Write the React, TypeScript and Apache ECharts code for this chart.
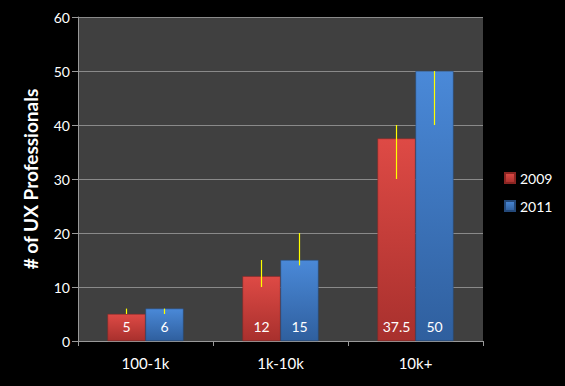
import React, { useEffect, useRef } from "react";
import * as echarts from "echarts";

const categories = ["100-1k", "1k-10k", "10k+"];
const series2009 = [5, 12, 37.5];
const series2011 = [6, 15, 50];
const err2009 = [[5, 6], [10, 15], [30, 40]];
const err2011 = [[5, 6], [14, 20], [40, 50]];
const yTicks = [0, 10, 20, 30, 40, 50, 60];

const FONT = "Lato, 'Open Sans', sans-serif";

export default function App() {
  const ref = useRef<HTMLDivElement>(null);
  useEffect(() => {
    document.body.style.margin = "0";
    document.body.style.background = "#000000";
    const chart = echarts.init(ref.current!, null, { renderer: "svg" });
    const BW = 38;
    const errData = (arr: number[][], side: number) =>
      arr.map((r, i) => [i, r[0], r[1], side]);
    const renderErr = (params: any, api: any) => {
      const i = api.value(0);
      const side = api.value(3);
      const p1 = api.coord([i, api.value(1)]);
      const p2 = api.coord([i, api.value(2)]);
      const x = p1[0] + side * (BW / 2);
      return {
        type: "line",
        shape: { x1: x, y1: p1[1], x2: x, y2: p2[1] },
        style: { stroke: "#ffff00", lineWidth: 1.2 },
      };
    };
    const grad = (top: string, bottom: string) =>
      new echarts.graphic.LinearGradient(0, 0, 0, 1, [
        { offset: 0, color: top },
        { offset: 1, color: bottom },
      ]);
    chart.setOption({
      animation: false,
      backgroundColor: "#000000",
      textStyle: { fontFamily: FONT },
      grid: { left: 78, right: 82, top: 17, bottom: 45, show: true, backgroundColor: "#404040", borderWidth: 0 },
      legend: {
        orient: "vertical",
        left: 499,
        top: 166,
        itemWidth: 10,
        itemHeight: 10,
        itemGap: 14,
        icon: "rect",
        textStyle: { color: "#ffffff", fontSize: 14, fontFamily: FONT },
        data: ["2009", "2011"],
      },
      xAxis: {
        type: "category",
        data: categories,
        axisLine: { show: true, lineStyle: { color: "#999999", width: 1 } },
        axisTick: { show: true, length: 5, lineStyle: { color: "#999999" } },
        axisLabel: { color: "#ffffff", fontSize: 15, margin: 14, fontFamily: FONT },
      },
      yAxis: {
        type: "value",
        min: yTicks[0],
        max: yTicks[yTicks.length - 1],
        interval: 10,
        name: "# of UX Professionals",
        nameLocation: "middle",
        nameGap: 38,
        nameTextStyle: { color: "#ffffff", fontSize: 19, fontWeight: "bold", fontFamily: FONT },
        axisLine: { show: true, lineStyle: { color: "#999999", width: 1 } },
        axisTick: { show: true, length: 6, lineStyle: { color: "#999999" } },
        axisLabel: { color: "#ffffff", fontSize: 14, margin: 8, fontFamily: FONT },
        splitLine: { show: true, lineStyle: { color: "#8a8a8a", width: 1 } },
      },
      series: [
        {
          name: "2009",
          type: "bar",
          data: series2009,
          barWidth: BW,
          barGap: "0%",
          itemStyle: { color: grad("#de4a45", "#a8302d"), borderColor: "#8a2522", borderWidth: 0.5 },
          label: { show: true, position: "insideBottom", distance: 8, color: "#ffffff", fontSize: 14, fontFamily: FONT },
        },
        {
          name: "2011",
          type: "bar",
          data: series2011,
          barWidth: BW,
          barGap: "0%",
          itemStyle: { color: grad("#4a89d8", "#2f5f9e"), borderColor: "#24497a", borderWidth: 0.5 },
          label: { show: true, position: "insideBottom", distance: 8, color: "#ffffff", fontSize: 14, fontFamily: FONT },
        },
        {
          type: "custom",
          name: "err2009",
          renderItem: renderErr,
          data: errData(err2009, -1),
          encode: { x: 0, y: [1, 2] },
          z: 10,
          silent: true,
        },
        {
          type: "custom",
          name: "err2011",
          renderItem: renderErr,
          data: errData(err2011, 1),
          encode: { x: 0, y: [1, 2] },
          z: 10,
          silent: true,
        },
      ],
    });
    return () => chart.dispose();
  }, []);
  return <div ref={ref} style={{ width: 565, height: 386 }} />;
}
